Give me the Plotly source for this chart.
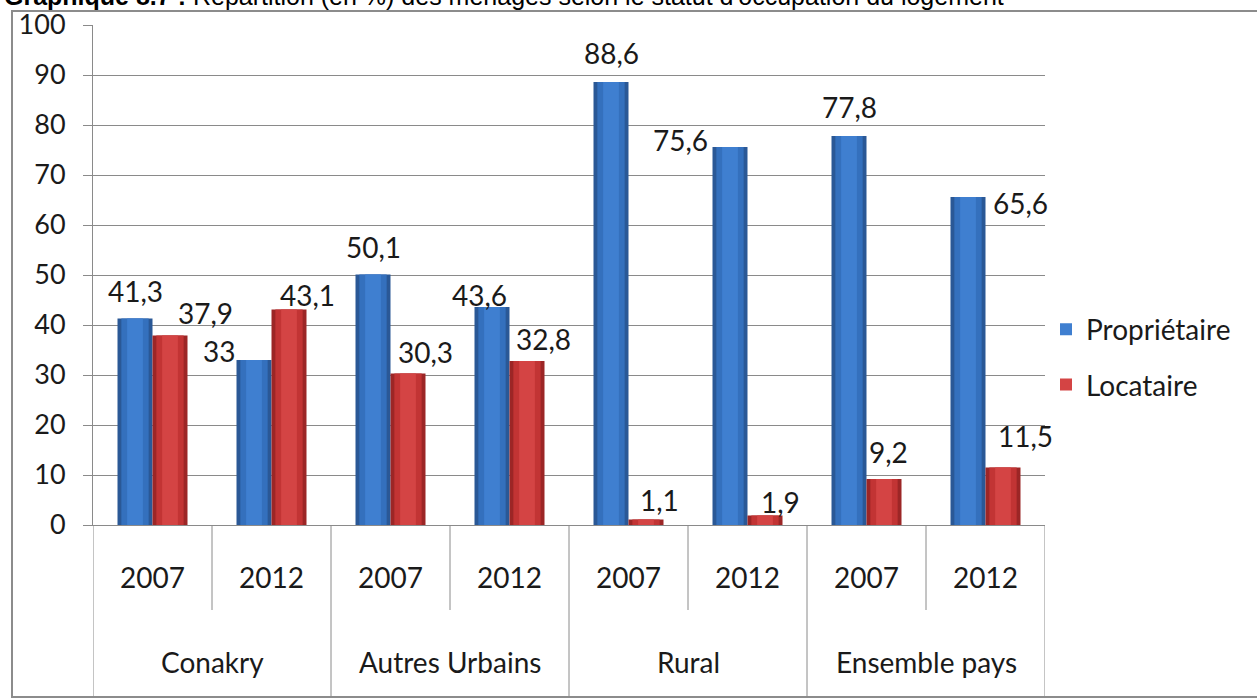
import plotly.graph_objects as go

# ---- data ----
groups = ["Conakry", "Autres Urbains", "Rural", "Ensemble pays"]
years = ["2007", "2012", "2007", "2012", "2007", "2012", "2007", "2012"]
proprietaire = [41.3, 33, 50.1, 43.6, 88.6, 75.6, 77.8, 65.6]
locataire = [37.9, 43.1, 30.3, 32.8, 1.1, 1.9, 9.2, 11.5]
series_names = ["Propriétaire", "Locataire"]
yticks = [0, 10, 20, 30, 40, 50, 60, 70, 80, 90, 100]
title_bold = "Graphique 8.7 :"
title_rest = " Répartition (en %) des ménages selon le statut d'occupation du logement"

# ---- style ----
FONT = "Lato"
W, H = 1257, 698
L, R, T, B = 93, 212, 25, 173
plot_w = W - L - R
plot_h = H - T - B
n = len(years)
cat_px = plot_w / n
bar_w = 35 / cat_px  # width of one bar in axis units

def px_to_paper_x(px):
    return (px - L) / plot_w

def py_to_paper_y(py):
    return (H - B - py) / plot_h

def fmt(v):
    return f"{v:g}".replace(".", ",")

x = list(range(n))
fig = go.Figure()

layers = [
    # (width fraction, color_blue, color_red, legend)
    (1.00, "#2a5896", "#9c2626", False),
    (0.78, "#3470bd", "#c23434", False),
    (0.45, "#3f7fd0", "#d44444", True),
]
for frac, cb, cr, leg in layers:
    w = bar_w * frac
    fig.add_trace(go.Bar(
        x=x, y=proprietaire, name=series_names[0],
        width=[w] * n, offset=[-bar_w / 2 - w / 2] * n,
        marker=dict(color=cb, line=dict(width=0)),
        showlegend=leg, legendgroup="p", hoverinfo="skip"))
    fig.add_trace(go.Bar(
        x=x, y=locataire, name=series_names[1],
        width=[w] * n, offset=[bar_w / 2 - w / 2] * n,
        marker=dict(color=cr, line=dict(width=0)),
        showlegend=leg, legendgroup="l", hoverinfo="skip"))

# per-label pixel offsets (label centre relative to top of bar)
p_off = [(0, -28), (-35, -9), (0, -28), (-13, -12), (0, -29), (-50, -7), (0, -29), (52, 6)]
l_off = [(35, -23), (18, -15), (17, -22), (16, -22), (13, -20), (15, -14), (4, -27), (22, -32)]

annotations = []
lab_font = dict(family=FONT, size=28, color="#1a1a1a")
for i in range(n):
    for vals, offs, sign in ((proprietaire, p_off, -1), (locataire, l_off, 1)):
        dx, dy = offs[i]
        annotations.append(dict(
            x=i + sign * bar_w / 2, y=vals[i], xref="x", yref="y",
            text=fmt(vals[i]), showarrow=False, xanchor="center", yanchor="middle",
            xshift=dx, yshift=-dy, font=lab_font))

# category (year) labels
for i, yr in enumerate(years):
    annotations.append(dict(
        x=i, y=py_to_paper_y(577), xref="x", yref="paper", text=yr,
        showarrow=False, xanchor="center", yanchor="middle", font=lab_font))
# group labels
for g, name in enumerate(groups):
    annotations.append(dict(
        x=2 * g + 0.5, y=py_to_paper_y(662), xref="x", yref="paper", text=name,
        showarrow=False, xanchor="center", yanchor="middle", font=lab_font))

# title (partially cut by the top of the page, as in the reference)
annotations.append(dict(
    x=px_to_paper_x(2), y=py_to_paper_y(-4), xref="paper", yref="paper",
    text=f"<b>{title_bold}</b>{title_rest}", showarrow=False,
    xanchor="left", yanchor="middle",
    font=dict(family="Liberation Sans", size=25, color="#000")))

shapes = []
line_col = "#8a8a8a"
# year dividers
for i in range(n // 2):
    xv = 2 * i + 0.5
    shapes.append(dict(type="line", xref="x", yref="paper", x0=xv, x1=xv,
                       y0=0, y1=py_to_paper_y(610), line=dict(color=line_col, width=1)))
# group dividers
for g in range(len(groups) + 1):
    xv = 2 * g - 0.5
    shapes.append(dict(type="line", xref="x", yref="paper", x0=xv, x1=xv,
                       y0=0, y1=py_to_paper_y(697), line=dict(color=line_col, width=1)))
# outer frame
shapes.append(dict(type="rect", xref="paper", yref="paper",
                   x0=px_to_paper_x(12), x1=px_to_paper_x(1270),
                   y0=py_to_paper_y(697), y1=py_to_paper_y(11),
                   line=dict(color="#8c8c8c", width=2), layer="below"))

fig.update_layout(
    width=W, height=H,
    margin=dict(l=L, r=R, t=T, b=B, pad=0, autoexpand=False),
    paper_bgcolor="white", plot_bgcolor="white",
    barmode="overlay",
    font=dict(family=FONT, size=28, color="#1a1a1a"),
    xaxis=dict(range=[-0.5, n - 0.5], showticklabels=False, ticks="",
               showgrid=False, zeroline=False, showline=True, automargin=False,
               linecolor=line_col, linewidth=1, fixedrange=True),
    yaxis=dict(range=[0, 100], tickvals=yticks, ticks="outside", ticklen=9,
               tickcolor=line_col, showgrid=True, gridcolor=line_col, gridwidth=1,
               showline=True, linecolor=line_col, linewidth=1, zeroline=False,
               automargin=False,
               ticklabelstandoff=12, tickfont=dict(family=FONT, size=27, color="#1a1a1a"),
               fixedrange=True),
    legend=dict(x=px_to_paper_x(1046), xanchor="left", y=py_to_paper_y(357), yanchor="middle",
                font=dict(family=FONT, size=28, color="#1a1a1a"),
                tracegroupgap=16, traceorder="grouped", bgcolor="rgba(0,0,0,0)"),
    annotations=annotations,
    shapes=shapes,
)

fig.write_html("out.html", config={"displayModeBar": False},
               post_script="document.body.style.margin='0';document.body.style.overflow='hidden';")
